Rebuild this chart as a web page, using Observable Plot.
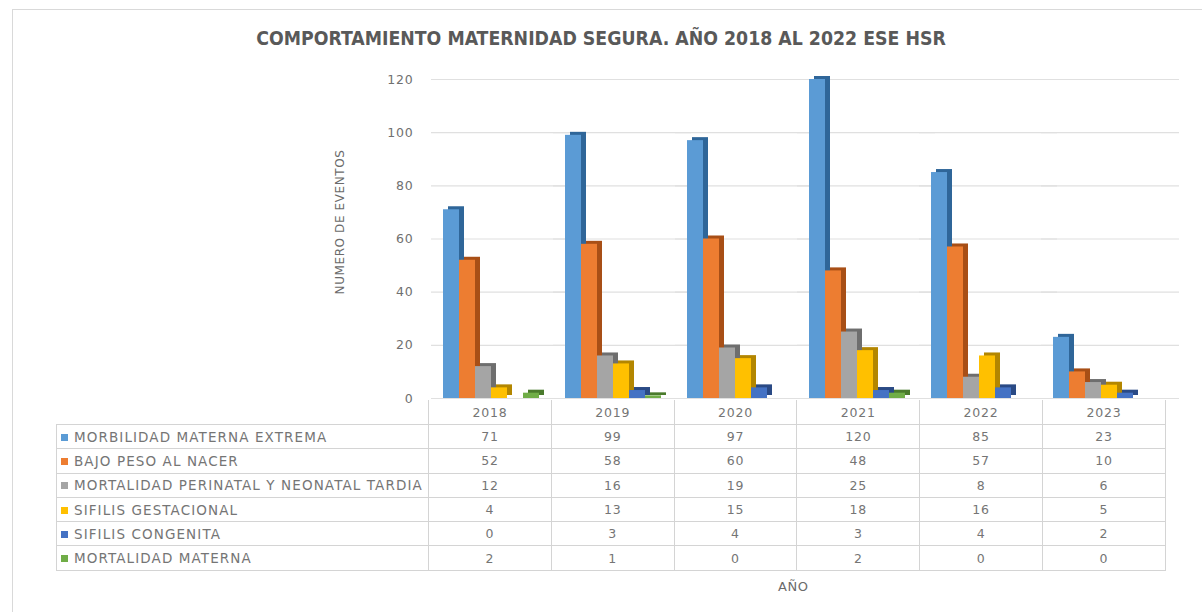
<!DOCTYPE html>
<html>
<head>
<meta charset="utf-8">
<script src="https://cdn.jsdelivr.net/npm/d3@7"></script>
<script src="https://cdn.jsdelivr.net/npm/@observablehq/plot@0.6"></script>
<style>
  html, body { margin: 0; padding: 0; background: #fff; }
  body { width: 1202px; height: 612px; position: relative; overflow: hidden; font-family: "DejaVu Sans", sans-serif; }
  #frame { position: absolute; left: 12px; top: 9px; width: 1200px; height: 620px; border: 1px solid #d9d9d9; box-sizing: border-box; }
  #title { position: absolute; left: 0; width: 1202px; top: 27px; text-align: center; font-family: "Liberation Sans Narrow", "DejaVu Sans Condensed", "Liberation Sans", sans-serif; font-stretch: condensed; font-weight: bold; font-size: 19.3px; color: #595959; }
  #chart { position: absolute; left: 0; top: 60px; }
  #ylabel { position: absolute; left: 340px; top: 222px; transform: translate(-50%, -50%) rotate(-90deg); white-space: nowrap; font-size: 12px; letter-spacing: 0.6px; color: #6b6b6b; }
  #tbl { position: absolute; left: 56px; top: 400px; border-collapse: collapse; table-layout: fixed; color: #757575; font-size: 13.5px; letter-spacing: 1.1px; }
  #tbl td { border: 1px solid #d4d4d4; padding: 0; height: 23.3px; text-align: center; white-space: nowrap; }
  #tbl td.lab { text-align: left; padding-left: 4px; letter-spacing: 1.1px; }
  #tbl td.num { font-size: 12.5px; letter-spacing: 0.8px; }
  #tbl tr.head td { border-top: none; height: 24px; }
  #tbl tr.head td.blank { border: none; border-right: 1px solid #d4d4d4; }
  .sw { display: inline-block; width: 7px; height: 7px; margin-right: 6px; vertical-align: 1px; }
  #xlabel { position: absolute; left: 778px; top: 579px; font-size: 13px; color: #6b6b6b; letter-spacing: 0.6px; }
</style>
</head>
<body>
<div id="frame"></div>
<div id="title">COMPORTAMIENTO MATERNIDAD SEGURA. AÑO 2018 AL 2022 ESE HSR</div>
<div id="chart"></div>
<div id="ylabel">NUMERO DE EVENTOS</div>
<table id="tbl"></table>
<div id="xlabel">AÑO</div>
<script>
const years = ["2018", "2019", "2020", "2021", "2022", "2023"];
const seriesNames = [
  "MORBILIDAD MATERNA EXTREMA",
  "BAJO PESO AL NACER",
  "MORTALIDAD PERINATAL Y NEONATAL TARDIA",
  "SIFILIS GESTACIONAL",
  "SIFILIS CONGENITA",
  "MORTALIDAD MATERNA"
];
const morbilidadMaternaExtrema = [71, 99, 97, 120, 85, 23];
const bajoPesoAlNacer = [52, 58, 60, 48, 57, 10];
const mortalidadPerinatal = [12, 16, 19, 25, 8, 6];
const sifilisGestacional = [4, 13, 15, 18, 16, 5];
const sifilisCongenita = [0, 3, 4, 3, 4, 2];
const mortalidadMaterna = [2, 1, 0, 2, 0, 0];
const yTicks = [0, 20, 40, 60, 80, 100, 120];

const seriesValues = [morbilidadMaternaExtrema, bajoPesoAlNacer, mortalidadPerinatal, sifilisGestacional, sifilisCongenita, mortalidadMaterna];
const frontColors = ["#5B9BD5", "#ED7D31", "#A5A5A5", "#FFC000", "#4472C4", "#70AD47"];
const sideColors = ["#2F6699", "#A84F16", "#6E6E6E", "#B38600", "#2A4A85", "#4A7A2C"];

const rows = [];
seriesNames.forEach((s, i) => years.forEach((y, j) => rows.push({serie: s, year: y, value: seriesValues[i][j], idx: i})));

const marks = [
  Plot.ruleY(yTicks, {stroke: "#e0e0e0", strokeWidth: 1.2, insetRight: -16}),
  Plot.axisY(yTicks, {tickSize: 0, tickPadding: 18, fontSize: 12.5, fill: "#707070", label: null})
];
seriesNames.forEach((s, i) => {
  const d = rows.filter(r => r.idx === i && r.value > 0);
  marks.push(Plot.barY(d, {fx: "year", x: "serie", y: "value", fill: sideColors[i], dx: 4, dy: -3}));
  marks.push(Plot.barY(d, {fx: "year", x: "serie", y: "value", fill: frontColors[i], dx: -1}));
});

const chart = Plot.plot({
  width: 1202,
  height: 345,
  marginLeft: 428,
  marginRight: 37,
  marginTop: 19,
  marginBottom: 7,
  style: {fontFamily: "DejaVu Sans, sans-serif", letterSpacing: "0.8px", background: "transparent", overflow: "visible"},
  fx: {domain: years, padding: 0, axis: null, label: null},
  x: {domain: seriesNames, axis: null, paddingInner: 0, paddingOuter: 0.6},
  y: {domain: [0, 120], label: null},
  marks
});
document.getElementById("chart").appendChild(chart);

// data table
const tbl = d3.select("#tbl");
const colg = tbl.append("colgroup");
colg.append("col").style("width", "372px");
years.forEach(() => colg.append("col").style("width", "122.8px"));
const head = tbl.append("tr").attr("class", "head");
head.append("td").attr("class", "blank");
years.forEach(y => head.append("td").attr("class", "num").text(y));
seriesNames.forEach((s, i) => {
  const tr = tbl.append("tr");
  const lab = tr.append("td").attr("class", "lab");
  lab.append("span").attr("class", "sw").style("background", frontColors[i]);
  lab.append("span").text(s);
  seriesValues[i].forEach(v => tr.append("td").attr("class", "num").text(v));
});
</script>
</body>
</html>
